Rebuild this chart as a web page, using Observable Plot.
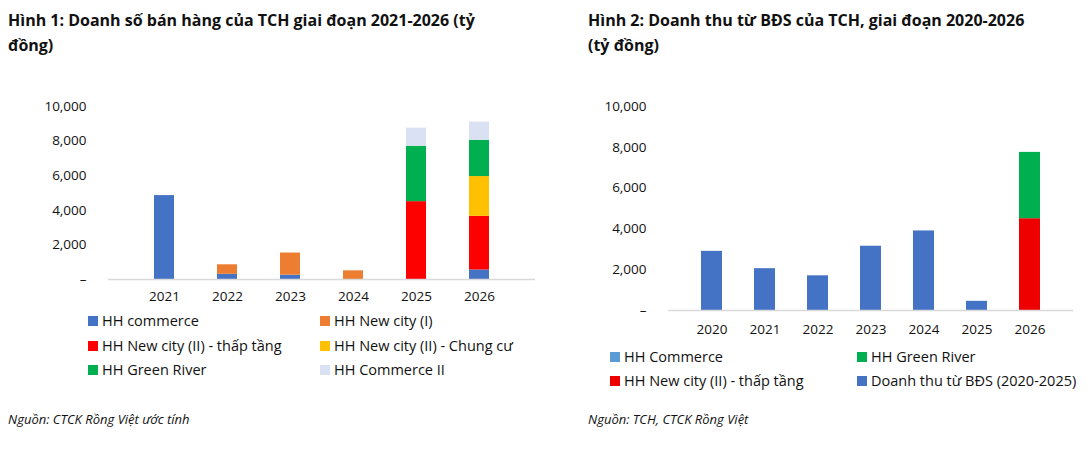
<!DOCTYPE html><html><head><meta charset="utf-8">
<script src="https://cdn.jsdelivr.net/npm/d3@7"></script>
<script src="https://cdn.jsdelivr.net/npm/@observablehq/plot@0.6"></script>
<style>
body{margin:0;width:1092px;height:450px;background:#fff;font-family:"Open Sans",sans-serif;position:relative;overflow:hidden}
.t{position:absolute;font-weight:bold;font-size:16px;line-height:25px;color:#111;white-space:nowrap}
.s{position:absolute;font-style:italic;font-size:13px;color:#111;top:410px}
.lg{position:absolute;font-size:14.5px;color:#111}
.lg div{position:absolute;white-space:nowrap}
.lg span{display:inline-block;width:10px;height:10px;margin-right:4px}
.p{position:absolute}
</style></head><body>
<div class="t" style="left:8px;top:8px">Hình 1: Doanh số bán hàng của TCH giai đoạn 2021-2026 (tỷ<br>đồng)</div>
<div class="t" style="left:588px;top:8px">Hình 2: Doanh thu từ BĐS của TCH, giai đoạn 2020-2026<br>(tỷ đồng)</div>
<div class="p" id="c1" style="left:0;top:95px"></div>
<div class="p" id="c2" style="left:546px;top:95px"></div>
<div class="lg" id="l1" style="left:88px;top:311px"></div>
<div class="lg" id="l2" style="left:610px;top:347px"></div>
<div class="s" style="left:8px">Nguồn: CTCK Rồng Việt ước tính</div>
<div class="s" style="left:588px">Nguồn: TCH, CTCK Rồng Việt</div>
<script>
const years1=["2021","2022","2023","2024","2025","2026"];
const series1=["HH commerce","HH New city (I)","HH New city (II) - thấp tầng","HH New city (II) - Chung cư","HH Green River","HH Commerce II"];
const colors1=["#4472C4","#ED7D31","#FF0000","#FFC000","#00B050","#D9E1F2"];
const vals1={
 "HH commerce":[4850,300,250,0,0,550],
 "HH New city (I)":[0,550,1280,500,0,0],
 "HH New city (II) - thấp tầng":[0,0,0,0,4500,3100],
 "HH New city (II) - Chung cư":[0,0,0,0,0,2300],
 "HH Green River":[0,0,0,0,3200,2100],
 "HH Commerce II":[0,0,0,0,1050,1050]};
const years2=["2020","2021","2022","2023","2024","2025","2026"];
const series2=["Doanh thu từ BĐS (2020-2025)","HH New city (II) - thấp tầng","HH Green River","HH Commerce"];
const colors2=["#4472C4","#EE0000","#00B050","#5B9BD5"];
const vals2={
 "Doanh thu từ BĐS (2020-2025)":[2900,2050,1700,3150,3900,450,0],
 "HH New city (II) - thấp tầng":[0,0,0,0,0,0,4500],
 "HH Green River":[0,0,0,0,0,0,3250],
 "HH Commerce":[0,0,0,0,0,0,0]};
const yTicks=[0,2000,4000,6000,8000,10000];
const fmt=d=>d===0?"–":d3.format(",")(d);
function mk(years,series,vals){const r=[];series.forEach(s=>years.forEach((y,i)=>{if(vals[s][i]>0)r.push({year:y,s,v:vals[s][i]})}));return r;}
function chart(years,series,colors,vals,o){
 return Plot.plot({width:o.w,height:o.h,marginTop:11,marginBottom:o.mb,marginLeft:o.ml,marginRight:o.mr,
  style:{fontFamily:"Open Sans",fontSize:"13.5px",color:"#111"},
  x:{domain:years,padding:o.pad,label:null,tickSize:0,tickPadding:o.tp},
  y:{domain:[0,10000],ticks:yTicks,tickFormat:fmt,label:null,tickSize:0,tickPadding:o.ytp},
  color:{domain:series,range:colors},
  marks:[Plot.barY(mk(years,series,vals),{x:"year",y:"v",fill:"s",order:series}),
   Plot.ruleY([0],{stroke:"#d9d9d9",strokeWidth:1.5})]});
}
document.getElementById("c1").append(chart(years1,series1,colors1,vals1,{w:546,h:215,mb:31,ml:108,mr:11,pad:0.68,tp:12,ytp:22}));
document.getElementById("c2").append(chart(years2,series2,colors2,vals2,{w:546,h:250,mb:35,ml:122,mr:19,pad:0.6,tp:14,ytp:22}));
function legend(id,items,cols,colw,rowh){const el=document.getElementById(id);items.forEach((it,i)=>{const d=document.createElement("div");d.style.left=(i%cols)*colw+"px";d.style.top=Math.floor(i/cols)*rowh+"px";d.innerHTML=`<span style="background:${it[1]}"></span>${it[0]}`;el.append(d);});}
legend("l1",series1.map((s,i)=>[s,colors1[i]]),2,232,24.5);
legend("l2",[["HH Commerce","#5B9BD5"],["HH Green River","#00B050"],["HH New city (II) - thấp tầng","#EE0000"],["Doanh thu từ BĐS (2020-2025)","#4472C4"]],2,247,24);
</script></body></html>
